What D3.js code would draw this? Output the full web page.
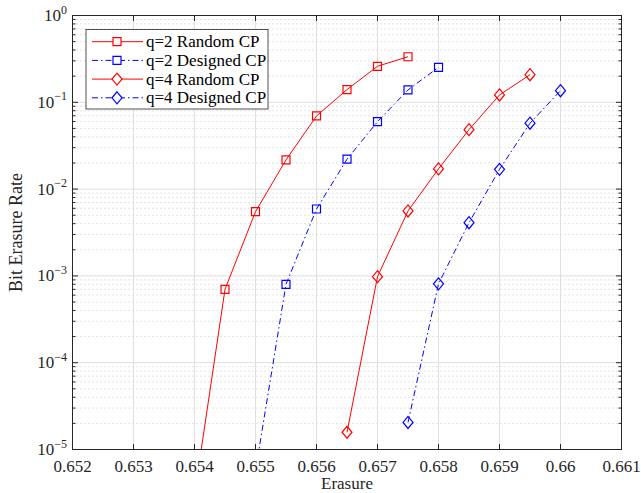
<!DOCTYPE html>
<html><head><meta charset="utf-8">
<script src="https://cdn.jsdelivr.net/npm/d3@7"></script>
<style>body{margin:0;background:#fff}svg{display:block}</style>
</head><body>
<svg id="c" width="641" height="493"></svg>
<script>
// ---- data ----
const xTicks = [0.652,0.653,0.654,0.655,0.656,0.657,0.658,0.659,0.66,0.661];
const xTickLabels = ["0.652","0.653","0.654","0.655","0.656","0.657","0.658","0.659","0.66","0.661"];
const yExponents = [0,-1,-2,-3,-4,-5];

const q2RandomX = [0.654,0.6545,0.655,0.6555,0.656,0.6565,0.657,0.6575];
const q2RandomY = [3.0e-6,7.0e-4,5.5e-3,0.0217,0.0696,0.140,0.260,0.335];
const q2DesignedX = [0.655,0.6555,0.656,0.6565,0.657,0.6575,0.658];
const q2DesignedY = [5.7e-6,8.0e-4,5.9e-3,0.0221,0.0598,0.139,0.253];
const q4RandomX = [0.6565,0.657,0.6575,0.658,0.6585,0.659,0.6595];
const q4RandomY = [1.58e-5,9.8e-4,5.6e-3,0.0171,0.0484,0.1215,0.208];
const q4DesignedX = [0.6575,0.658,0.6585,0.659,0.6595,0.66];
const q4DesignedY = [2.05e-5,8.1e-4,4.1e-3,0.0169,0.0574,0.136];

const seriesNames = ["q=2 Random CP","q=2 Designed CP","q=4 Random CP","q=4 Designed CP"];

// ---- layout ----
const L=72.5, R=621.5, T=15.5, B=449.5;
const FONT="'Liberation Serif','Times New Roman',serif";
const AX="#262626";
const svg=d3.select("#c");
const x=d3.scaleLinear().domain([0.652,0.661]).range([L,R]);
const y=d3.scaleLog().domain([1e-5,1]).range([B,T]);

const series=[
 {name:seriesNames[0],xs:q2RandomX,ys:q2RandomY,color:"#ff0000",dash:null,marker:"square"},
 {name:seriesNames[1],xs:q2DesignedX,ys:q2DesignedY,color:"#0000ff",dash:"6,3,1.5,3",marker:"square"},
 {name:seriesNames[2],xs:q4RandomX,ys:q4RandomY,color:"#ff0000",dash:null,marker:"diamond"},
 {name:seriesNames[3],xs:q4DesignedX,ys:q4DesignedY,color:"#0000ff",dash:"6,3,1.5,3",marker:"diamond"}
];

// grids
const minorVals=[];
for(let e=-5;e<0;e++){for(let m=2;m<=9;m++)minorVals.push(m*Math.pow(10,e));}
svg.append("g").selectAll("line").data(minorVals).join("line")
 .attr("x1",L).attr("x2",R).attr("y1",d=>y(d)).attr("y2",d=>y(d))
 .attr("stroke","#c8c8c8").attr("stroke-width",1).attr("stroke-dasharray","1,3");
svg.append("g").selectAll("line").data(yExponents.slice(1,-1)).join("line")
 .attr("x1",L).attr("x2",R).attr("y1",d=>y(Math.pow(10,d))).attr("y2",d=>y(Math.pow(10,d)))
 .attr("stroke","#dfdfdf").attr("stroke-width",1);
svg.append("g").selectAll("line").data(xTicks.slice(1,-1)).join("line")
 .attr("y1",T).attr("y2",B).attr("x1",d=>x(d)).attr("x2",d=>x(d))
 .attr("stroke","#dfdfdf").attr("stroke-width",1);

// clip
svg.append("clipPath").attr("id","clip").append("rect").attr("x",L).attr("y",T).attr("width",R-L).attr("height",B-T);

function markerPath(type){
 if(type==="square") return "M-4,-4H4V4H-4Z";
 return "M0,-6L5,0L0,6L-5,0Z";
}

const plot=svg.append("g").attr("clip-path","url(#clip)");
const line=d3.line().x(d=>x(d[0])).y(d=>y(d[1]));
series.forEach(s=>{
 const pts=s.xs.map((v,i)=>[v,s.ys[i]]);
 plot.append("path").attr("d",line(pts)).attr("fill","none").attr("stroke",s.color)
  .attr("stroke-width",1).attr("stroke-dasharray",s.dash);
 plot.append("g").selectAll("path").data(pts).join("path")
  .attr("transform",d=>`translate(${x(d[0])},${y(d[1])})`)
  .attr("d",markerPath(s.marker)).attr("fill","none").attr("stroke",s.color).attr("stroke-width",1.2);
});

// axes box and ticks
const axG=svg.append("g").attr("stroke",AX).attr("stroke-width",1);
axG.append("rect").attr("x",L).attr("y",T).attr("width",R-L).attr("height",B-T).attr("fill","none");
xTicks.forEach(t=>{
 axG.append("line").attr("x1",x(t)).attr("x2",x(t)).attr("y1",B).attr("y2",B-5.5);
 axG.append("line").attr("x1",x(t)).attr("x2",x(t)).attr("y1",T).attr("y2",T+5.5);
});
yExponents.forEach(e=>{
 const yy=y(Math.pow(10,e));
 axG.append("line").attr("x1",L).attr("x2",L+5.5).attr("y1",yy).attr("y2",yy);
 axG.append("line").attr("x1",R).attr("x2",R-5.5).attr("y1",yy).attr("y2",yy);
});
minorVals.forEach(v=>{
 const yy=y(v);
 axG.append("line").attr("x1",L).attr("x2",L+3).attr("y1",yy).attr("y2",yy);
 axG.append("line").attr("x1",R).attr("x2",R-3).attr("y1",yy).attr("y2",yy);
});

// tick labels
svg.append("g").selectAll("text").data(xTicks).join("text")
 .attr("x",d=>x(d)).attr("y",471.5).attr("text-anchor","middle")
 .attr("font-family",FONT).attr("font-size",17).attr("fill",AX)
 .text((d,i)=>xTickLabels[i]);
const yl=svg.append("g").selectAll("text").data(yExponents).join("text")
 .attr("x",67).attr("y",d=>y(Math.pow(10,d))+5.5).attr("text-anchor","end")
 .attr("font-family",FONT).attr("font-size",17).attr("fill",AX);
yl.append("tspan").text("10");
yl.append("tspan").attr("dy",-7.5).attr("font-size",12).text(d=>d===0?"0":"\u2212"+(-d));

// axis titles
svg.append("text").attr("x",(L+R)/2).attr("y",488.5).attr("text-anchor","middle")
 .attr("font-family",FONT).attr("font-size",17).attr("fill",AX).text("Erasure");
svg.append("text").attr("transform",`translate(22,${(T+B)/2}) rotate(-90)`).attr("text-anchor","middle")
 .attr("font-family",FONT).attr("font-size",18).attr("fill",AX).text("Bit Erasure Rate");

// legend
const lg=svg.append("g");
lg.append("rect").attr("x",86).attr("y",29.5).attr("width",182).attr("height",79.5)
 .attr("fill","#fff").attr("stroke",AX).attr("stroke-width",0.8);
series.forEach((s,i)=>{
 const yy=41.7+i*18.7;
 lg.append("line").attr("x1",92).attr("x2",143).attr("y1",yy).attr("y2",yy)
  .attr("stroke",s.color).attr("stroke-width",1).attr("stroke-dasharray",s.dash);
 lg.append("path").attr("transform",`translate(117,${yy})`).attr("d",markerPath(s.marker))
  .attr("fill","#fff").attr("stroke",s.color).attr("stroke-width",1.2);
 lg.append("text").attr("x",146).attr("y",yy+5.5).attr("font-family",FONT).attr("font-size",17)
  .attr("fill","#000").text(s.name);
});
</script>
</body></html>
